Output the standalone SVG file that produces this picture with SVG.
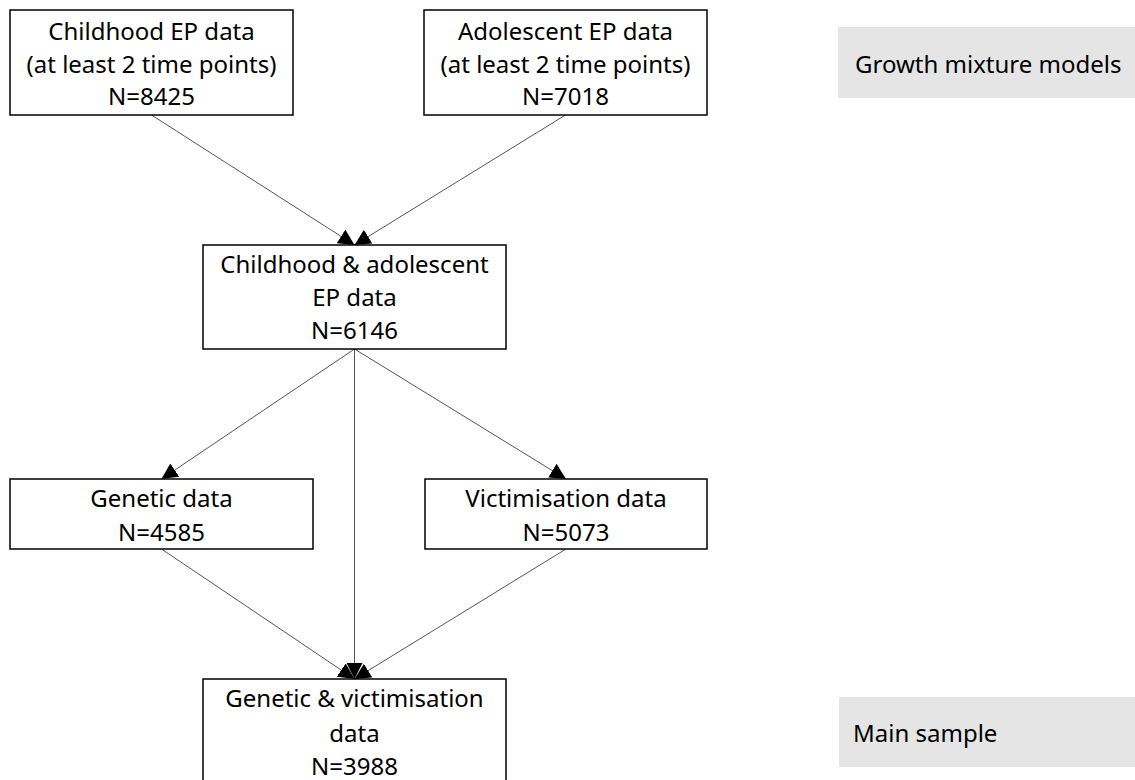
<svg xmlns="http://www.w3.org/2000/svg" width="1135" height="780" viewBox="0 0 1135 780">
<style>
.box{fill:#fff;stroke:#000;stroke-width:1.5}
.lbl{fill:#e5e5e5;stroke:none}
text{font-family:"Noto Sans","Open Sans",sans-serif;font-size:24px;fill:#000}
.c{text-anchor:middle}
.ln{stroke:#555;stroke-width:1;fill:none}
</style>
<defs>
<marker id="ah" viewBox="0 0 16 16" refX="16" refY="8" markerWidth="16" markerHeight="16" markerUnits="userSpaceOnUse" orient="auto">
<path d="M0,0 L16,8 L0,16 Z" fill="#000"/>
</marker>
</defs>
<rect width="1135" height="780" fill="#fff"/>
<g id="connectors">
<line class="ln" x1="151.5" y1="115" x2="354.5" y2="245" marker-end="url(#ah)"/>
<line class="ln" x1="565.5" y1="115" x2="354.5" y2="245" marker-end="url(#ah)"/>
<line class="ln" x1="354.5" y1="349" x2="161.5" y2="479" marker-end="url(#ah)"/>
<line class="ln" x1="354.5" y1="349" x2="566" y2="479" marker-end="url(#ah)"/>
<line class="ln" x1="354.5" y1="349" x2="354.5" y2="679" marker-end="url(#ah)" stroke="#888"/>
<line class="ln" x1="161.5" y1="549" x2="354.5" y2="679" marker-end="url(#ah)"/>
<line class="ln" x1="566" y1="549" x2="354.5" y2="679" marker-end="url(#ah)"/>
</g>
<g id="childhood">
<rect class="box" x="10" y="10" width="283" height="105"/>
<text class="c" x="151.5" y="40">Childhood EP data</text>
<text class="c" x="151.5" y="73">(at least 2 time points)</text>
<text class="c" x="151.5" y="105">N=8425</text>
</g>
<g id="adolescent">
<rect class="box" x="424" y="10" width="283" height="105"/>
<text class="c" x="565.5" y="40">Adolescent EP data</text>
<text class="c" x="565.5" y="73">(at least 2 time points)</text>
<text class="c" x="565.5" y="105">N=7018</text>
</g>
<g id="both">
<rect class="box" x="203" y="245" width="303" height="104"/>
<text class="c" x="354.5" y="273">Childhood &amp; adolescent</text>
<text class="c" x="354.5" y="306">EP data</text>
<text class="c" x="354.5" y="339">N=6146</text>
</g>
<g id="genetic">
<rect class="box" x="10" y="479" width="303" height="70"/>
<text class="c" x="161.5" y="507">Genetic data</text>
<text class="c" x="161.5" y="541">N=4585</text>
</g>
<g id="victimisation">
<rect class="box" x="425" y="479" width="282" height="70"/>
<text class="c" x="566" y="507">Victimisation data</text>
<text class="c" x="566" y="541">N=5073</text>
</g>
<g id="final">
<rect class="box" x="203" y="679" width="303" height="106"/>
<text class="c" x="354.5" y="707">Genetic &amp; victimisation</text>
<text class="c" x="354.5" y="742">data</text>
<text class="c" x="354.5" y="775">N=3988</text>
</g>
<g id="gmm">
<rect class="lbl" x="838" y="27" width="297" height="71"/>
<text x="855" y="73">Growth mixture models</text>
</g>
<g id="main">
<rect class="lbl" x="839" y="697" width="296" height="70"/>
<text x="853" y="742">Main sample</text>
</g>
</svg>
